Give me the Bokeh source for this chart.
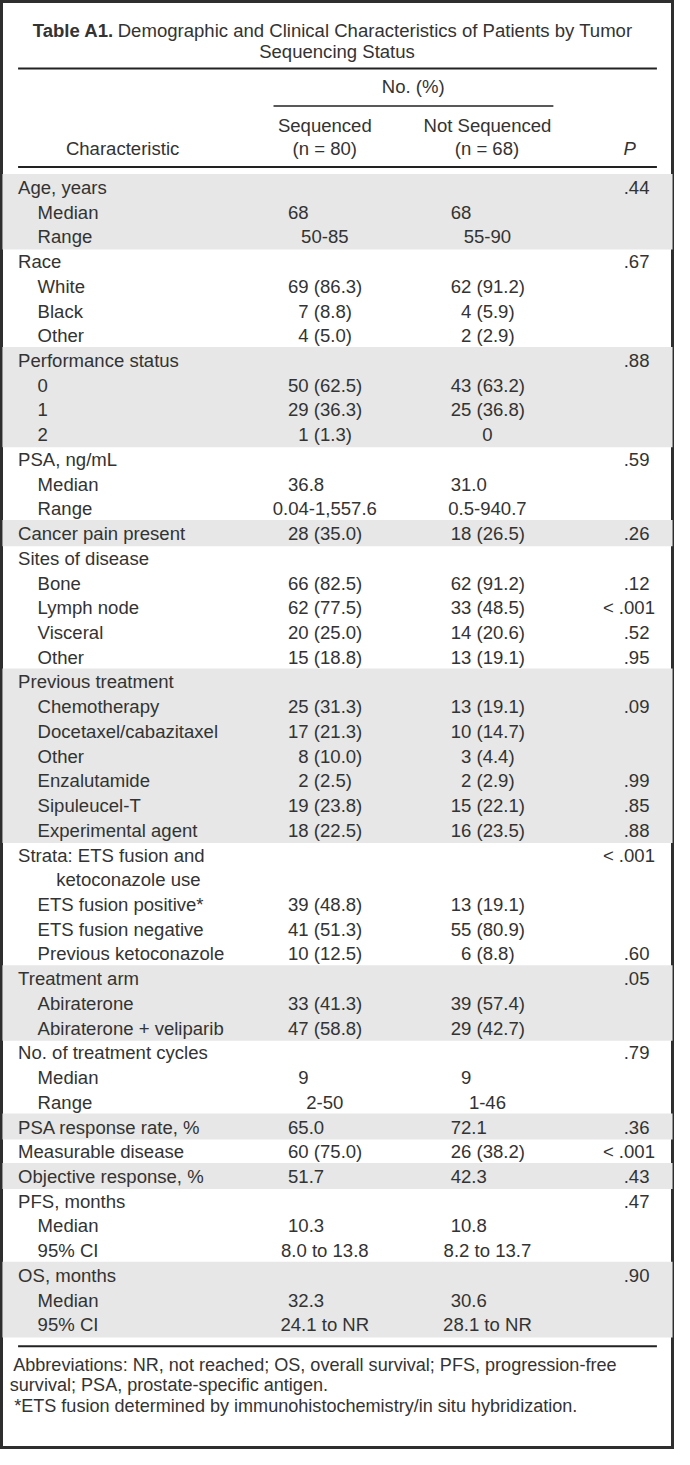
from bokeh.plotting import figure
from bokeh.models import Range1d, ColumnDataSource
from bokeh.embed import file_html
from bokeh.resources import INLINE
from bokeh.core.properties import value

# ---------------- data ----------------
title_bold = "Table A1."
title_line1 = "Demographic and Clinical Characteristics of Patients by Tumor"
title_line2 = "Sequencing Status"
spanner = "No. (%)"
col_heads = ["Characteristic", "Sequenced", "(n = 80)", "Not Sequenced", "(n = 68)", "P"]

labels = ["Age, years", "Median", "Range", "Race", "White", "Black", "Other",
          "Performance status", "0", "1", "2", "PSA, ng/mL", "Median", "Range",
          "Cancer pain present", "Sites of disease", "Bone", "Lymph node", "Visceral", "Other",
          "Previous treatment", "Chemotherapy", "Docetaxel/cabazitaxel", "Other", "Enzalutamide",
          "Sipuleucel-T", "Experimental agent", "Strata: ETS fusion and", "ketoconazole use",
          "ETS fusion positive*", "ETS fusion negative", "Previous ketoconazole",
          "Treatment arm", "Abiraterone", "Abiraterone + veliparib",
          "No. of treatment cycles", "Median", "Range", "PSA response rate, %",
          "Measurable disease", "Objective response, %", "PFS, months", "Median", "95% CI",
          "OS, months", "Median", "95% CI"]
# 0 = group heading, 1 = sub item, 2 = continuation of heading
levels = [0, 1, 1, 0, 1, 1, 1,
          0, 1, 1, 1, 0, 1, 1,
          0, 0, 1, 1, 1, 1,
          0, 1, 1, 1, 1,
          1, 1, 0, 2,
          1, 1, 1,
          0, 1, 1,
          0, 1, 1, 0,
          0, 0, 0, 1, 1,
          0, 1, 1]
sequenced = ["", "68", "50-85", "", "69 (86.3)", "7 (8.8)", "4 (5.0)",
             "", "50 (62.5)", "29 (36.3)", "1 (1.3)", "", "36.8", "0.04-1,557.6",
             "28 (35.0)", "", "66 (82.5)", "62 (77.5)", "20 (25.0)", "15 (18.8)",
             "", "25 (31.3)", "17 (21.3)", "8 (10.0)", "2 (2.5)",
             "19 (23.8)", "18 (22.5)", "", "",
             "39 (48.8)", "41 (51.3)", "10 (12.5)",
             "", "33 (41.3)", "47 (58.8)",
             "", "9", "2-50", "65.0",
             "60 (75.0)", "51.7", "", "10.3", "8.0 to 13.8",
             "", "32.3", "24.1 to NR"]
not_sequenced = ["", "68", "55-90", "", "62 (91.2)", "4 (5.9)", "2 (2.9)",
                 "", "43 (63.2)", "25 (36.8)", "0", "", "31.0", "0.5-940.7",
                 "18 (26.5)", "", "62 (91.2)", "33 (48.5)", "14 (20.6)", "13 (19.1)",
                 "", "13 (19.1)", "10 (14.7)", "3 (4.4)", "2 (2.9)",
                 "15 (22.1)", "16 (23.5)", "", "",
                 "13 (19.1)", "55 (80.9)", "6 (8.8)",
                 "", "39 (57.4)", "29 (42.7)",
                 "", "9", "1-46", "72.1",
                 "26 (38.2)", "42.3", "", "10.8", "8.2 to 13.7",
                 "", "30.6", "28.1 to NR"]
p_values = [".44", "", "", ".67", "", "", "",
            ".88", "", "", "", ".59", "", "",
            ".26", "", ".12", "< .001", ".52", ".95",
            "", ".09", "", "", ".99",
            ".85", ".88", "< .001", "",
            "", "", ".60",
            ".05", "", "",
            ".79", "", "", ".36",
            "< .001", ".43", ".47", "", "",
            ".90", "", ""]
footnotes = ["Abbreviations: NR, not reached; OS, overall survival; PFS, progression-free",
             "survival; PSA, prostate-specific antigen.",
             "*ETS fusion determined by immunohistochemistry/in situ hybridization."]

# ---------------- layout / style ----------------
W, H = 674, 1449          # figure size in px
RW, RH = 690, 1465        # design coordinate space
SX = W / RW
FONT = value("Liberation Sans")
FS = 19.0                 # design font size
DIGIT = 0.5562 * FS       # digit advance in design units
TXT = "#333333"
SHADE = "#e6e7e6"
RULE = "#222222"
BASE_FIX = -7.0           # baseline correction for text rendering

ROW0 = 196.0      # baseline of first body row
PITCH = 25.0
X_L0, X_L1, X_L2 = 18, 38, 57
SEQ_ANCHOR, SEQ_CENTER = 315.5, 332.0
NS_ANCHOR, NS_CENTER = 482.0, 498.5
P_LEFT, P_RIGHT = 638.0, 670.0
TABLE_L, TABLE_R = 18, 672

p = figure(width=W, height=H, x_range=Range1d(0, RW), y_range=Range1d(RH, 0),
           output_backend="svg", toolbar_location=None, min_border=0,
           x_axis_location=None, y_axis_location=None)
p.grid.visible = False
p.background_fill_color = "white"
p.border_fill_color = "white"
p.outline_line_color = "#2e2e2e"
p.outline_line_width = 5

n = len(labels)
baselines = [ROW0 + i * PITCH for i in range(n)]

# shaded groups
groups = []
for i, lv in enumerate(levels):
    if lv == 0:
        groups.append([i, i])
    else:
        groups[-1][1] = i
tops, bots = [], []
for gi, (a, b) in enumerate(groups):
    if gi % 2 == 0:
        tops.append(baselines[a] - 20.7)
        bots.append(baselines[b] + 5.7)
p.quad(left=2, right=RW - 2, top=tops, bottom=bots, fill_color=SHADE, line_color=None)

# rules
p.segment(x0=[TABLE_L, TABLE_L, TABLE_L], x1=[TABLE_R, TABLE_R, TABLE_R],
          y0=[68.7, 168.3, 1360.7], y1=[68.7, 168.3, 1360.7], line_color=RULE, line_width=2)
p.segment(x0=[279.5], x1=[566], y0=[106.7], y1=[106.7], line_color=RULE, line_width=1.6)


def txt(xs, ys, texts, align="left", size=FS, style="normal", color=TXT):
    if not texts:
        return
    src = ColumnDataSource(dict(x=list(xs), y=[y + BASE_FIX for y in ys], t=list(texts)))
    p.text(x="x", y="y", text="t", source=src, text_font=FONT,
           text_font_size=value(f"{size * SX:.2f}px"), text_align=align,
           text_baseline="alphabetic", text_color=color, text_font_style=style)


# title
txt([33], [37.5], [title_bold], style="bold")
txt([120], [37.5], [title_line1])
txt([344.5], [58.5], [title_line2], align="center")

# column heads
txt([422.5], [94], [spanner], align="center")
txt([125, 332, 332, 498.5, 498], [157, 133, 157, 133, 157], col_heads[:5], align="center")
txt([644], [157], [col_heads[5]], align="center", style="italic")

# characteristic labels
indent = {0: X_L0, 1: X_L1, 2: X_L2}
txt([indent[lv] for lv in levels], baselines, labels)


def column(values, anchor, center):
    lx, ly, lt, cx, cy, ct = [], [], [], [], [], []
    for v, y in zip(values, baselines):
        if not v:
            continue
        if "-" in v or " to " in v or v == "0":
            cx.append(center); cy.append(y); ct.append(v)
        else:
            k = 0
            while k < len(v) and v[k].isdigit():
                k += 1
            lx.append(anchor - k * DIGIT); ly.append(y); lt.append(v)
    txt(lx, ly, lt)
    txt(cx, cy, ct, align="center")


column(sequenced, SEQ_ANCHOR, SEQ_CENTER)
column(not_sequenced, NS_ANCHOR, NS_CENTER)

# P values (decimal aligned)
pl = [(v, y) for v, y in zip(p_values, baselines) if v and not v.startswith("<")]
pr = [(v, y) for v, y in zip(p_values, baselines) if v.startswith("<")]
txt([P_LEFT] * len(pl), [y for _, y in pl], [v for v, _ in pl])
txt([P_RIGHT] * len(pr), [y for _, y in pr], [v for v, _ in pr], align="right")

# footnotes
txt([13, 9.5, 14], [1386.7, 1407.2, 1427.8], footnotes, size=18.5)

open("out.html", "w").write(file_html(p, INLINE))
